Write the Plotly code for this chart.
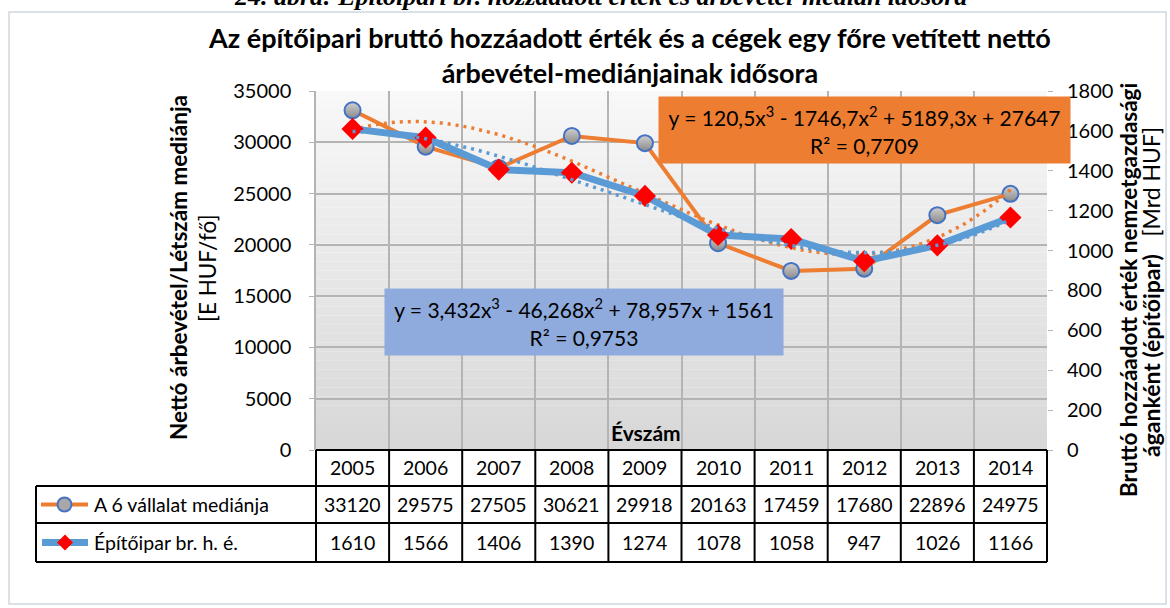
import numpy as np
import plotly.graph_objects as go

years = ["2005", "2006", "2007", "2008", "2009", "2010", "2011", "2012", "2013", "2014"]
median_6 = [33120, 29575, 27505, 30621, 29918, 20163, 17459, 17680, 22896, 24975]
epitoipar = [1610, 1566, 1406, 1390, 1274, 1078, 1058, 947, 1026, 1166]
series_names = ["A 6 vállalat mediánja", "Építőipar br. h. é."]
eq_orange = "y = 120,5x<sup>3</sup> - 1746,7x<sup>2</sup> + 5189,3x + 27647<br>R² = 0,7709"
eq_blue = "y = 3,432x<sup>3</sup> - 46,268x<sup>2</sup> + 78,957x + 1561<br>R² = 0,9753"

W, H = 1170, 608
L, R, T, B = 316, 1047, 91, 450
FONT = "Lato"

def px(x):
    return (x - L) / (R - L)

def py(y):
    return (B - y) / (B - T)

n = len(years)
xs = np.arange(1, n + 1)

# polynomial (order 3) trendlines fitted on the data
xf = np.linspace(1, n, 200)
p_or = np.polyfit(xs, median_6, 3)
p_bl = np.polyfit(xs, epitoipar, 3)

ORANGE = "#ED7D31"
BLUE = "#5B9BD5"

fig = go.Figure()
fig.add_trace(go.Scatter(
    x=xs, y=median_6, mode="lines+markers", name=series_names[0],
    line=dict(color=ORANGE, width=4),
    marker=dict(symbol="circle", size=16, color="#d0d0d0",
                gradient=dict(type="vertical", color="#8a8a8a"),
                line=dict(color="#4472C4", width=2)),
    cliponaxis=False))
fig.add_trace(go.Scatter(
    x=xs, y=epitoipar, mode="lines+markers", name=series_names[1], yaxis="y2",
    line=dict(color=BLUE, width=7),
    marker=dict(symbol="diamond", size=17, color="#FF0000"),
    cliponaxis=False))
fig.add_trace(go.Scatter(
    x=xf, y=np.polyval(p_or, xf), mode="lines", hoverinfo="skip",
    line=dict(color=ORANGE, width=3.5, dash="3px,5px")))
fig.add_trace(go.Scatter(
    x=xf, y=np.polyval(p_bl, xf), mode="lines", yaxis="y2", hoverinfo="skip",
    line=dict(color=BLUE, width=3.5, dash="3px,5px")))

shapes = []
# gradient plot background
nb = 40
for i in range(nb):
    t = i / (nb - 1)
    c0 = np.array([248, 248, 248])
    c1 = np.array([216, 216, 216])
    c = (c0 + (c1 - c0) * t).astype(int)
    shapes.append(dict(type="rect", xref="x domain", yref="y domain",
                       x0=0, x1=1, y0=1 - i / nb, y1=1 - (i + 1) / nb,
                       fillcolor=f"rgb({c[0]},{c[1]},{c[2]})", line=dict(width=0),
                       layer="below"))
# outer chart border
shapes.append(dict(type="rect", xref="paper", yref="paper",
                   x0=px(9), x1=px(1166), y0=py(12), y1=py(604),
                   line=dict(color="#d0d7e0", width=1.5), layer="below"))

# data table below the plot
row_y = [450, 486, 523, 562]
lc = "#000000"
lw = 2
for k in range(n + 1):
    shapes.append(dict(type="line", xref="paper", yref="paper",
                       x0=k / n, x1=k / n, y0=py(row_y[0]), y1=py(row_y[3]),
                       line=dict(color=lc, width=lw)))
shapes.append(dict(type="line", xref="paper", yref="paper",
                   x0=0, x1=1, y0=py(row_y[0]), y1=py(row_y[0]), line=dict(color=lc, width=lw)))
for yy in row_y[1:]:
    shapes.append(dict(type="line", xref="paper", yref="paper",
                       x0=px(36), x1=1, y0=py(yy), y1=py(yy), line=dict(color=lc, width=lw)))
shapes.append(dict(type="line", xref="paper", yref="paper",
                   x0=px(36), x1=px(36), y0=py(row_y[1]), y1=py(row_y[3]),
                   line=dict(color=lc, width=lw)))

# legend keys in the table
ry1 = (row_y[1] + row_y[2]) / 2
ry2 = (row_y[2] + row_y[3]) / 2
shapes.append(dict(type="line", xref="paper", yref="paper",
                   x0=px(41), x1=px(88), y0=py(ry1), y1=py(ry1),
                   line=dict(color=ORANGE, width=4)))
shapes.append(dict(type="circle", xref="paper", yref="paper",
                   xsizemode="pixel", ysizemode="pixel",
                   xanchor=px(64.5), yanchor=py(ry1), x0=-7, x1=7, y0=-7, y1=7,
                   fillcolor="#a8a8a8", line=dict(color="#4472C4", width=2)))
shapes.append(dict(type="line", xref="paper", yref="paper",
                   x0=px(42), x1=px(88), y0=py(ry2), y1=py(ry2),
                   line=dict(color=BLUE, width=7)))
shapes.append(dict(type="path", xref="paper", yref="paper",
                   xsizemode="pixel", ysizemode="pixel",
                   xanchor=px(65), yanchor=py(ry2),
                   path="M 0 8 L 8 0 L 0 -8 L -8 0 Z",
                   fillcolor="#FF0000", line=dict(width=0)))

annotations = []

def ann(x, y, text, size, xanchor="center", family=FONT, **kw):
    d = dict(xref="paper", yref="paper", x=px(x), y=py(y), text=text,
             showarrow=False, xanchor=xanchor, yanchor="middle",
             font=dict(family=family, size=size, color="#000000"))
    d.update(kw)
    annotations.append(d)

for k in range(n):
    xc = L + (k + 0.5) * (R - L) / n
    ann(xc, (row_y[0] + row_y[1]) / 2, years[k], 19.5)
    ann(xc, ry1, str(median_6[k]), 19.5)
    ann(xc, ry2, str(epitoipar[k]), 19.5)
ann(92, ry1, series_names[0], 19.5, xanchor="left")
ann(92, ry2, series_names[1], 19.5, xanchor="left")

# titles
ann(629, 55, "<b>Az építőipari bruttó hozzáadott érték és a cégek egy főre vetített nettó<br>árbevétel-mediánjainak idősora</b>", 27)
ann(600, -3, "<b><i>24. ábra: Építőipari br. hozzáadott érték és árbevétel-medián idősora</i></b>", 26,
    family="Liberation Serif")
ann(178, 268, "<b>Nettó árbevétel/Létszám mediánja</b>", 22.5, textangle=-90)
ann(207, 268, "[E HUF/fő]", 22.5, textangle=-90)
ann(1128, 290, "<b>Bruttó hozzáadott érték nemzetgazdasági</b>", 22.5, textangle=-90)
ann(1151, 292, "<b>áganként (építőipar)</b>\u00a0\u00a0\u00a0[Mrd HUF]", 23, textangle=-90)
ann(646, 432, "<b>Évszám</b>", 21)
# trendline equations
ann(864, 130, eq_orange, 21, bgcolor=ORANGE, width=405, height=60, borderpad=3)
ann(584, 322, eq_blue, 21, bgcolor="#8FAADC", width=392, height=60, borderpad=3)

fig.update_layout(
    width=W, height=H,
    margin=dict(l=L, r=W - R, t=T, b=H - B, autoexpand=False),
    paper_bgcolor="white", plot_bgcolor="white",
    showlegend=False,
    font=dict(family=FONT, size=18, color="#000000"),
    xaxis=dict(range=[0.5, n + 0.5], tick0=0.5, dtick=1, showticklabels=False,
               showgrid=True, gridcolor="#b4b4b4", gridwidth=1.5, zeroline=False,
               ticks="", showline=False),
    yaxis=dict(range=[0, 35000], dtick=5000, tickformat="d", showgrid=True, gridcolor="#b4b4b4",
               gridwidth=1.5, zeroline=False, ticks="outside", ticklen=5,
               tickcolor="#b4b4b4", ticklabelstandoff=14,
               showline=True, linecolor="#b4b4b4", linewidth=1.5,
               tickfont=dict(family=FONT, size=20, color="#000000")),
    yaxis2=dict(range=[0, 1800], dtick=200, tickformat="d", overlaying="y", side="right",
                showgrid=False, zeroline=False, ticks="outside", ticklen=5,
                tickcolor="#b4b4b4", ticklabelstandoff=10,
                showline=False,
                tickfont=dict(family=FONT, size=20, color="#000000")),
    shapes=shapes,
    annotations=annotations,
)

fig.write_html("out.html", post_script="document.body.style.margin='0';",
               config={"displayModeBar": False})
